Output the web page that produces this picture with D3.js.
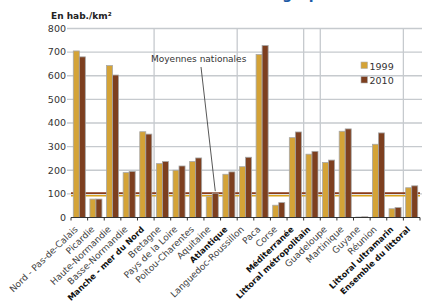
<!DOCTYPE html>
<html>
<head>
<meta charset="utf-8">
<script src="https://cdn.jsdelivr.net/npm/d3@7"></script>
<style>
  body { margin: 0; background: #fff; }
  svg { display: block; font-family: "DejaVu Sans", Verdana, sans-serif; }
</style>
</head>
<body>
<svg id="chart" width="422" height="305"></svg>
<script>
// données (hab./km²)
var categories = ["Nord - Pas-de-Calais", "Picardie", "Haute-Normandie", "Basse-Normandie",
  "Manche - mer du Nord", "Bretagne", "Pays de la Loire", "Poitou-Charentes", "Aquitaine",
  "Atlantique", "Languedoc-Roussillon", "Paca", "Corse", "Méditerranée",
  "Littoral métropolitain", "Guadeloupe", "Martinique", "Guyane", "Réunion",
  "Littoral ultramarin", "Ensemble du littoral"];
var boldCats = ["Manche - mer du Nord", "Atlantique", "Méditerranée", "Littoral métropolitain",
  "Littoral ultramarin", "Ensemble du littoral"];
var series = ["1999", "2010"];
var values1999 = [705, 78, 643, 190, 363, 228, 200, 237, 88, 183, 215, 690, 52, 338, 268, 233, 365, 2, 310, 37, 126];
var values2010 = [680, 78, 603, 195, 353, 237, 218, 252, 103, 193, 255, 728, 63, 362, 280, 243, 375, 3, 358, 42, 134];
var nationalAvg = [92, 103];
var yTicks = [0, 100, 200, 300, 400, 500, 600, 700, 800];
var separators = ["Manche - mer du Nord", "Atlantique", "Méditerranée", "Littoral métropolitain", "Littoral ultramarin"];

var colors = { "1999": "#d4a337", "2010": "#7d3f1f" };
var lineColors = { "1999": "#d9a21c", "2010": "#8a3a18" };

var svg = d3.select("#chart");

var y = d3.scaleLinear().domain([0, 800]).range([217.5, 28.5]);
var x = d3.scaleBand().domain(categories).range([71, 420]).padding(0);
var x1 = d3.scaleBand().domain(series).range([0, x.bandwidth()]).paddingInner(0).paddingOuter(0.38);

// titre coupé en haut
svg.append("text").attr("x", 290).attr("y", -1).attr("text-anchor", "middle")
  .attr("font-size", 14).attr("font-weight", "bold").attr("fill", "#1d5aa6")
  .text("Démographie");

// grille horizontale
svg.append("g").selectAll("line").data(yTicks.filter(function (d) { return d > 0; }))
  .join("line")
  .attr("x1", 67).attr("x2", 422)
  .attr("y1", function (d) { return y(d); }).attr("y2", function (d) { return y(d); })
  .attr("stroke", "#c6cace").attr("stroke-width", 1.3);

// séparateurs verticaux
svg.append("g").selectAll("line").data(separators).join("line")
  .attr("x1", function (d) { return x(d) + x.bandwidth(); })
  .attr("x2", function (d) { return x(d) + x.bandwidth(); })
  .attr("y1", y(800)).attr("y2", y(0))
  .attr("stroke", "#c6cace").attr("stroke-width", 1.3);

// étiquettes axe Y
svg.append("g").selectAll("text").data(yTicks).join("text")
  .attr("x", 66).attr("y", function (d) { return y(d); }).attr("dy", "0.35em")
  .attr("text-anchor", "end").attr("font-size", 9.5).attr("fill", "#333")
  .text(function (d) { return d; });

svg.append("text").attr("x", 51).attr("y", 19)
  .attr("font-size", 9).attr("font-weight", "bold").attr("fill", "#222")
  .text("En hab./km²");

// moyennes nationales
svg.append("g").selectAll("line").data(series).join("line")
  .attr("x1", 71).attr("x2", 420)
  .attr("y1", function (d, i) { return y(nationalAvg[i]); })
  .attr("y2", function (d, i) { return y(nationalAvg[i]); })
  .attr("stroke", function (d) { return lineColors[d]; }).attr("stroke-width", 1.6);

// barres
var rows = categories.map(function (c, i) {
  return { cat: c, vals: [{ s: "1999", v: values1999[i] }, { s: "2010", v: values2010[i] }] };
});
var groups = svg.append("g").selectAll("g").data(rows).join("g")
  .attr("transform", function (d) { return "translate(" + x(d.cat) + ",0)"; });
groups.selectAll("rect").data(function (d) { return d.vals; }).join("rect")
  .attr("x", function (d) { return x1(d.s); })
  .attr("y", function (d) { return y(d.v); })
  .attr("width", x1.bandwidth())
  .attr("height", function (d) { return y(0) - y(d.v); })
  .attr("fill", function (d) { return colors[d.s]; })
  .attr("stroke", "#a7a7a7").attr("stroke-width", 0.8);

// axe X
var axis = svg.append("g");
axis.append("line").attr("x1", 71).attr("x2", 420).attr("y1", y(0)).attr("y2", y(0))
  .attr("stroke", "#333").attr("stroke-width", 1.2);
axis.selectAll("line.tick").data(categories.concat(["end"])).join("line").attr("class", "tick")
  .attr("x1", function (d, i) { return 71 + i * x.step(); })
  .attr("x2", function (d, i) { return 71 + i * x.step(); })
  .attr("y1", y(0)).attr("y2", y(0) + 3)
  .attr("stroke", "#333").attr("stroke-width", 1);

axis.selectAll("text").data(categories).join("text")
  .attr("transform", function (d) {
    return "translate(" + (x(d) + x.bandwidth() / 2 - 1) + "," + 230 + ") rotate(-44)";
  })
  .attr("text-anchor", "end")
  .attr("font-size", function (d) { return boldCats.indexOf(d) >= 0 ? 8.2 : 9; })
  .attr("font-weight", function (d) { return boldCats.indexOf(d) >= 0 ? "bold" : "normal"; })
  .attr("fill", function (d) { return boldCats.indexOf(d) >= 0 ? "#111" : "#444"; })
  .text(function (d) { return d; });

// annotation
svg.append("text").attr("x", 151).attr("y", 62)
  .attr("font-size", 9).attr("fill", "#333").text("Moyennes nationales");
svg.append("line").attr("x1", 201).attr("y1", 67)
  .attr("x2", x("Aquitaine") + x1("2010") + x1.bandwidth() / 2).attr("y2", y(nationalAvg[1]) - 2)
  .attr("stroke", "#444").attr("stroke-width", 0.9);

// légende
var legend = svg.append("g").selectAll("g").data(series).join("g")
  .attr("transform", function (d, i) { return "translate(361," + (62 + i * 14.5) + ")"; });
legend.append("rect").attr("width", 6.5).attr("height", 6.5)
  .attr("fill", function (d) { return colors[d]; })
  .attr("stroke", "#b0b0b0").attr("stroke-width", 0.6);
legend.append("text").attr("x", 8.5).attr("y", 7.5)
  .attr("font-size", 9.5).attr("fill", "#333").text(function (d) { return d; });
</script>
</body>
</html>
